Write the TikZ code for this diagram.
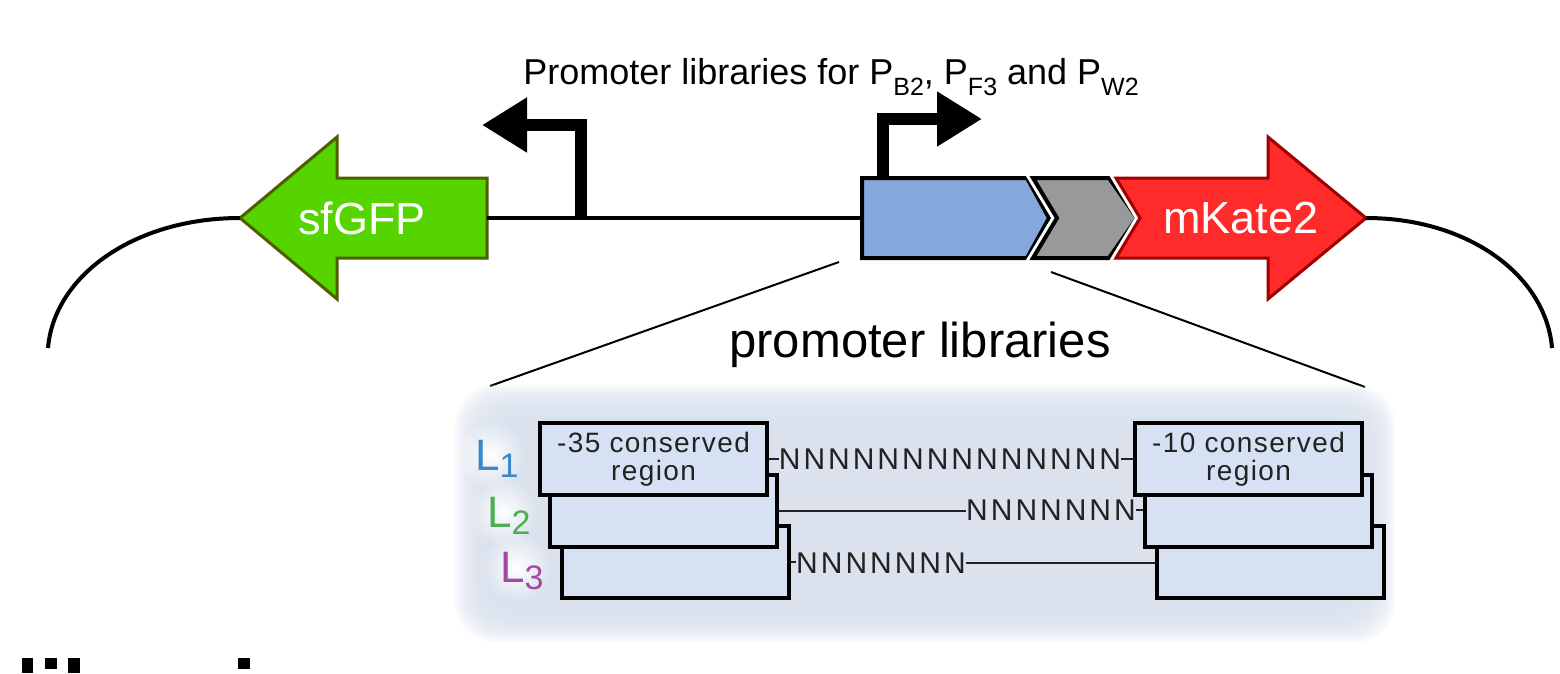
\documentclass[tikz,border=0pt]{standalone}
\usepackage{fontspec}
\setmainfont{Liberation Sans}
\usetikzlibrary{arrows.meta,fadings}

\definecolor{gfpgreen}{HTML}{55D400}
\definecolor{gfpedge}{HTML}{4D5F00}
\definecolor{katered}{HTML}{FF2A2A}
\definecolor{kateedge}{HTML}{A00000}
\definecolor{promblue}{HTML}{84A8DC}
\definecolor{rbsgray}{HTML}{999999}
\definecolor{libbg}{HTML}{D8E0EC}
\definecolor{boxfill}{HTML}{D6E2F4}
\definecolor{lone}{HTML}{3B88C9}
\definecolor{ltwo}{HTML}{4CB050}
\definecolor{lthree}{HTML}{A349A4}
\definecolor{seqtext}{HTML}{222222}

\newcommand{\lowidx}[1]{\raisebox{-11pt}{\fontsize{25}{25}\selectfont #1}}
\newcommand{\libname}[1]{L\raisebox{-7pt}{\fontsize{34}{34}\selectfont #1}}

\tikzfading[name=glowfade, inner color=transparent!0, outer color=transparent!100]

\tikzset{
  backbone/.style={line width=4pt},
  promarrow/.style={line width=12pt, line join=miter, -{Triangle[length=45pt,width=52pt]}},
  partstyle/.style={draw=black, line width=4pt, line join=miter, preaction={draw=white, line width=10pt}},
  gfpstyle/.style={draw=gfpedge, fill=gfpgreen, line width=3pt, line join=miter},
  katestyle/.style={draw=kateedge, fill=katered, line width=3pt, line join=miter, preaction={draw=white, line width=9pt}},
  genelabel/.style={text=white, font=\fontsize{45}{45}\selectfont},
  zoomline/.style={line width=2pt},
  regionbox/.style={draw, fill=boxfill, line width=4pt, minimum width=227pt, minimum height=72pt, inner sep=0pt},
  boxtext/.style={text=seqtext, align=center, font=\fontsize{28}{28}\selectfont\addfontfeature{LetterSpace=5}},
  seq/.style={text=seqtext, inner sep=0pt, font=\fontsize{30}{30}\selectfont\addfontfeature{LetterSpace=10}},
  seqline/.style={line width=2pt, draw=seqtext},
  libtag/.style={anchor=base west, inner sep=0pt, font=\fontsize{44}{44}\selectfont}
}

\begin{document}
\begin{tikzpicture}[x=1pt,y=-1pt]
  \useasboundingbox (0,0) rectangle (1560,673);

  % parts
  \coordinate (gfptip) at (240,218);
  \coordinate (katetip) at (1366,218);
  \draw[gfpstyle] (gfptip) -- (337,137) -- (337,178) -- (487,178) -- (487,258) -- (337,258) -- (337,299) -- cycle;
  \draw[partstyle, fill=promblue] (862,178) -- (1027,178) -- (1049,218) -- (1027,258) -- (862,258) -- cycle;
  \draw[partstyle, fill=rbsgray] (1033,178) -- (1109,178) -- (1137,218) -- (1109,258) -- (1033,258) -- (1057,218) -- cycle;
  \draw[katestyle] (1116,178) -- (1268,178) -- (1268,137) -- (katetip) -- (1268,299) -- (1268,258) -- (1116,258) -- (1140,218) -- cycle;
  \node[genelabel] (gfp) at (362,218) {sfGFP};
  \node[genelabel] (kate) at (1241,218) {mKate2};

  % backbone
  \coordinate (lend) at (48,348);
  \coordinate (gfpend) at (487,218);
  \coordinate (promstart) at (862,218);
  \coordinate (rend) at (1552,348);
  \draw[backbone] (lend) .. controls (54,276) and (134,218) .. (gfptip);
  \draw[backbone] (gfpend) -- (promstart);
  \draw[backbone] (katetip) .. controls (1469,218) and (1546,276) .. (rend);

  % promoters
  \coordinate (lprom) at (581,218);
  \coordinate (ltip) at (482,125);
  \coordinate (rprom) at (883,178);
  \coordinate (rtip) at (982,119);
  \draw[promarrow] (lprom) |- (ltip);
  \draw[promarrow] (rprom) |- (rtip);
  \node[anchor=base, font=\fontsize{36}{36}\selectfont] (title) at (831,84)
    {Promoter libraries for P\lowidx{B2}, P\lowidx{F3} and P\lowidx{W2}};

  % zoom into the promoter
  \coordinate (zoomL) at (839,262);
  \coordinate (zoomR) at (1051,272);
  \coordinate (libL) at (490,386);
  \coordinate (libR) at (1365,387);
  \draw[zoomline] (zoomL) -- (libL);
  \draw[zoomline] (zoomR) -- (libR);
  \node[anchor=base, font=\fontsize{49}{49}\selectfont] (libtitle) at (920,357) {promoter libraries};

  \foreach \k in {0,...,11}
    \fill[libbg, fill opacity=0.2, rounded corners=40pt] (455+3*\k,385+3*\k) rectangle (1395-3*\k,642-3*\k);

  % library labels
  \fill[white, path fading=glowfade] (490,455) circle (34);
  \fill[white, path fading=glowfade] (503,512) circle (34);
  \fill[white, path fading=glowfade] (516,567) circle (34);
  \node[libtag, text=lone] (lab1) at (475,470) {\libname{1}};
  \node[libtag, text=ltwo] (lab2) at (487,527) {\libname{2}};
  \node[libtag, text=lthree] (lab3) at (500,582) {\libname{3}};

  % conserved regions
  \node[regionbox] (m35c) at (675.5,562) {};
  \node[regionbox] (m10c) at (1270.5,562) {};
  \node[regionbox] (m35b) at (663.5,510.5) {};
  \node[regionbox] (m10b) at (1258.5,510.5) {};
  \node[regionbox] (m35a) at (653.5,459) {};
  \node[regionbox] (m10a) at (1248.5,459) {};
  \node[boxtext] at (m35a) {-35 conserved\\region};
  \node[boxtext] at (m10a) {-10 conserved\\region};

  % spacers
  \node[seq] (seqa) at (950,459) {NNNNNNNNNNNNNN};
  \node[seq] (seqb) at (1051,510) {NNNNNNN};
  \node[seq] (seqc) at (881,563) {NNNNNNN};
  \draw[seqline] (m35a.east) -- (m35a.east -| seqa.west);
  \draw[seqline] (seqa.east) -- (seqa.east -| m10a.west);
  \draw[seqline] (m35b.east) -- (m35b.east -| seqb.west);
  \draw[seqline] (seqb.east) -- (seqb.east -| m10b.west);
  \draw[seqline] (m35c.east) -- (m35c.east -| seqc.west);
  \draw[seqline] (seqc.east) -- (seqc.east -| m10c.west);

  % marks at the bottom edge
  \fill (22,658) rectangle (33,673);
  \fill (45,658) rectangle (57,669);
  \fill (68,658) rectangle (80,673);
  \fill (238,658) rectangle (250,669);
\end{tikzpicture}
\end{document}
